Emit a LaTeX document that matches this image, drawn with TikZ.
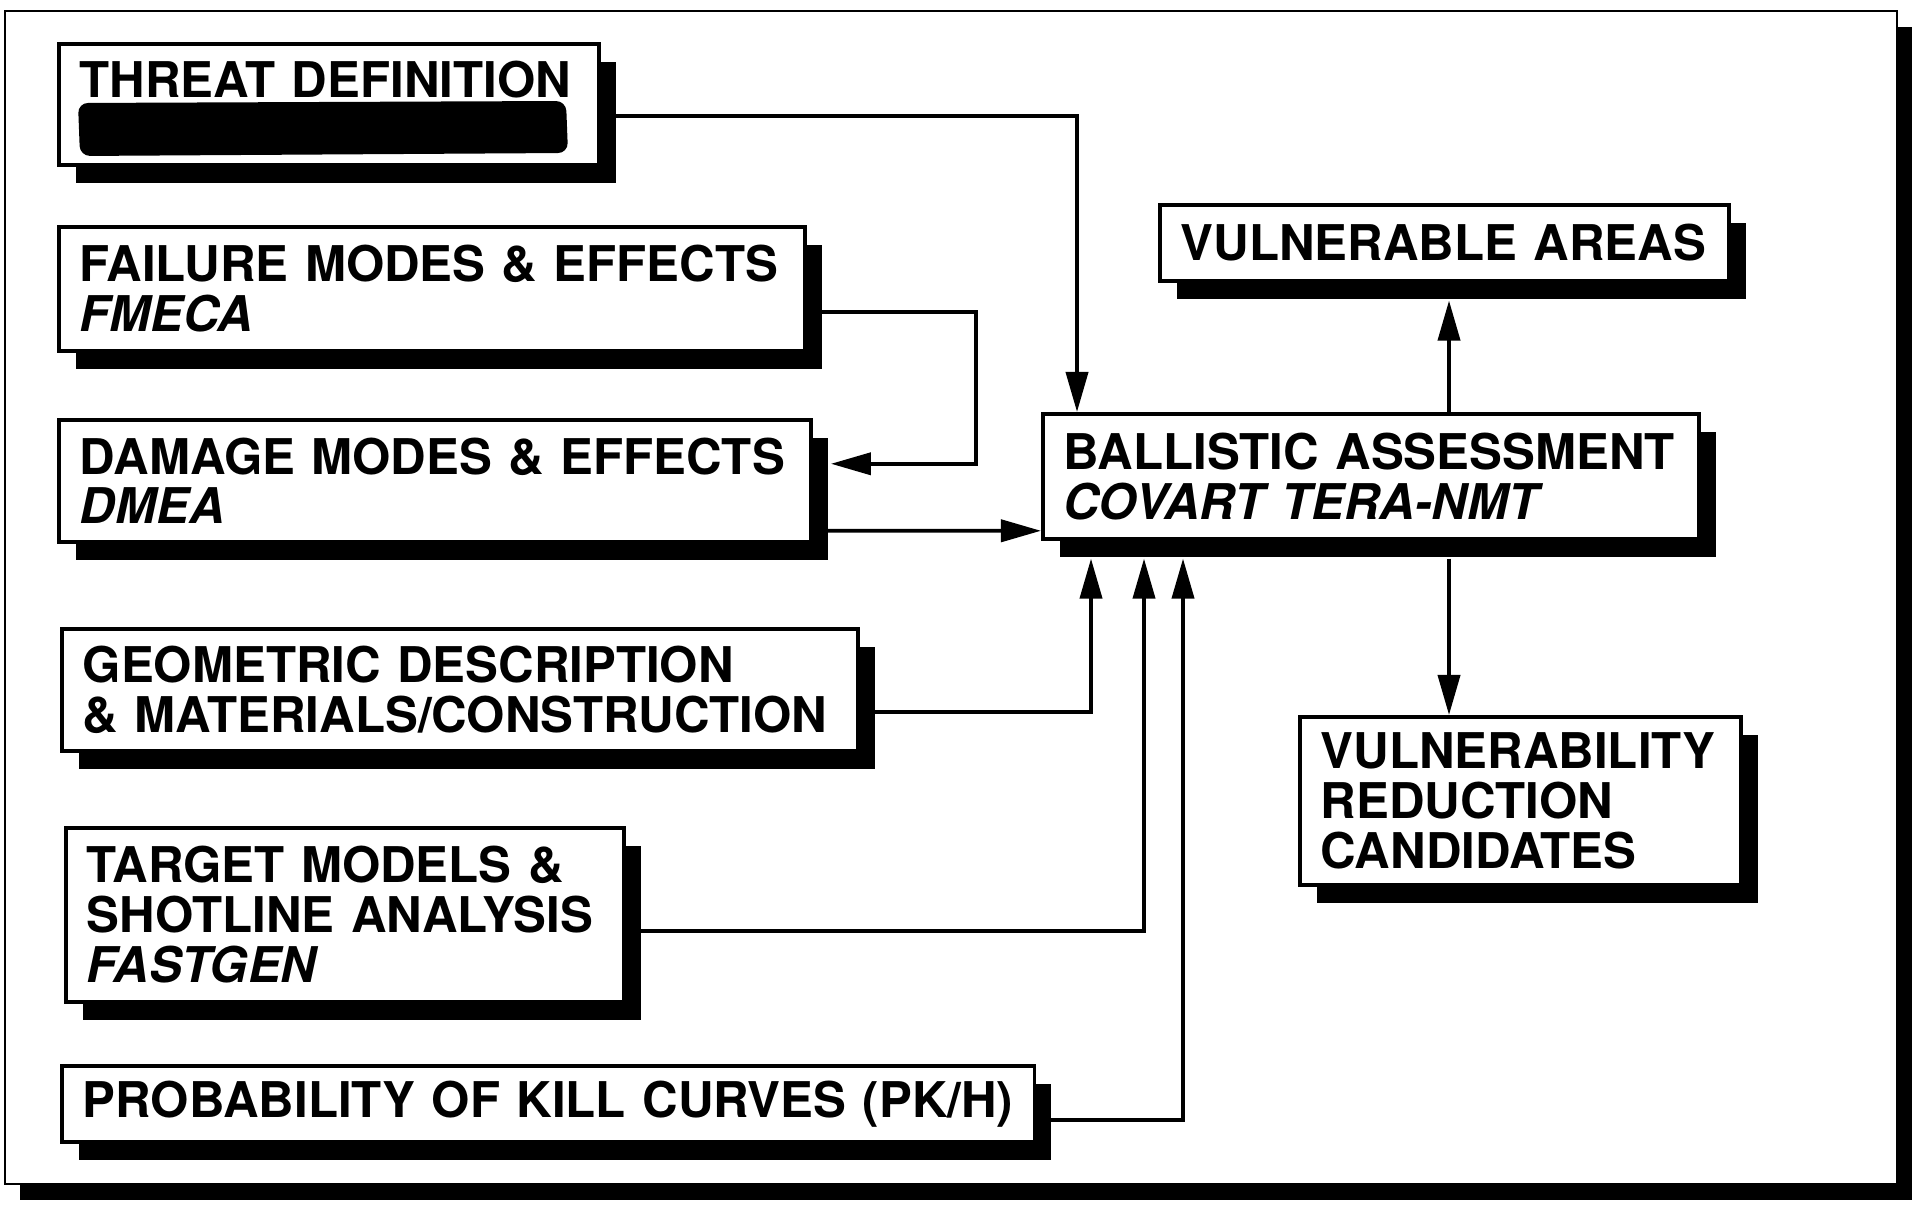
\documentclass[tikz,border=0pt]{standalone}
\usepackage{fontspec}
\setmainfont{TeX Gyre Heros}
\usetikzlibrary{arrows.meta, calc, shadows}

\begin{document}
\begin{tikzpicture}[x=0.01cm, y=-0.01cm,
    box/.style={draw, line width=1pt, fill=white, anchor=north west, align=left,
        inner xsep=0.21cm, inner ysep=0pt,
        font=\fontsize{14pt}{14.2pt}\selectfont\bfseries,
        drop shadow={shadow xshift=0.17cm, shadow yshift=-0.18cm, fill=black, opacity=1}},
    conn/.style={line width=1.1pt, -{Triangle[length=0.4cm, width=0.22cm]}}]
    \useasboundingbox (0,0) rectangle (1913,1207);

    % Outer frame
    \draw[line width=0.6pt, fill=white, drop shadow={shadow xshift=0.15cm, shadow yshift=-0.16cm, fill=black, opacity=1}] (5,11) rectangle (1897,1184);

    % Input boxes
    \node[box, text width=4.98cm, minimum height=1.21cm] (threat) at (57,42) {THREAT DEFINITION\\\mbox{}};
    \fill[rounded corners=0.1cm] (78,103) -- (566,101) -- (568,153) -- (80,156) -- cycle;
    \node[box, text width=7.04cm, minimum height=1.24cm] (failure) at (57,225) {FAILURE MODES \& EFFECTS\\\textit{FMECA}};
    \node[box, text width=7.10cm, minimum height=1.22cm] (damage) at (57,418) {DAMAGE MODES \& EFFECTS\\\textit{DMEA}};
    \node[box, text width=7.54cm, minimum height=1.22cm] (geometric) at (60,627) {GEOMETRIC DESCRIPTION\\\& MATERIALS/CONSTRUCTION};
    \node[box, text width=5.16cm, minimum height=1.74cm] (target) at (64,826) {TARGET MODELS \&\\SHOTLINE ANALYSIS\\\textit{FASTGEN}};
    \node[box, text width=9.30cm, minimum height=0.76cm] (pk) at (60,1064) {PROBABILITY OF KILL CURVES (PK/H)};

    % Assessment and outputs
    \node[box, text width=6.14cm, minimum height=1.25cm] (ballistic) at (1041,412) {BALLISTIC ASSESSMENT\\\textit{COVART TERA-NMT}};
    \node[box, text width=5.27cm, minimum height=0.76cm] (areas) at (1158,203) {VULNERABLE AREAS};
    \node[box, text width=3.99cm, minimum height=1.68cm] (reduction) at (1298,715) {VULNERABILITY\\REDUCTION\\CANDIDATES};

    % Connectors
    \draw[conn] ($(threat.east)+(0,12)$) -| ($(ballistic.north west)+(36,0)$);
    \draw[conn] ($(failure.east)+(0,23)$) -- ++(169,0) |- ($(damage.east)+(18,-17)$);
    \draw[conn] ($(damage.east)+(0,50)$) -- ($(ballistic.west)+(0,54.5)$);
    \draw[conn] ($(geometric.east)+(0,22)$) -| ($(ballistic.south west)+(50,18)$);
    \draw[conn] ($(target.east)+(0,16)$) -| ($(ballistic.south west)+(103,18)$);
    \draw[conn] ($(pk.east)+(0,16)$) -| ($(ballistic.south west)+(142,18)$);
    \draw[conn] ($(ballistic.north west)+(408,0)$) -- ($(areas.south west)+(291,18)$);
    \draw[conn] ($(ballistic.south west)+(408,18)$) -- ($(reduction.north west)+(151,0)$);
\end{tikzpicture}
\end{document}
